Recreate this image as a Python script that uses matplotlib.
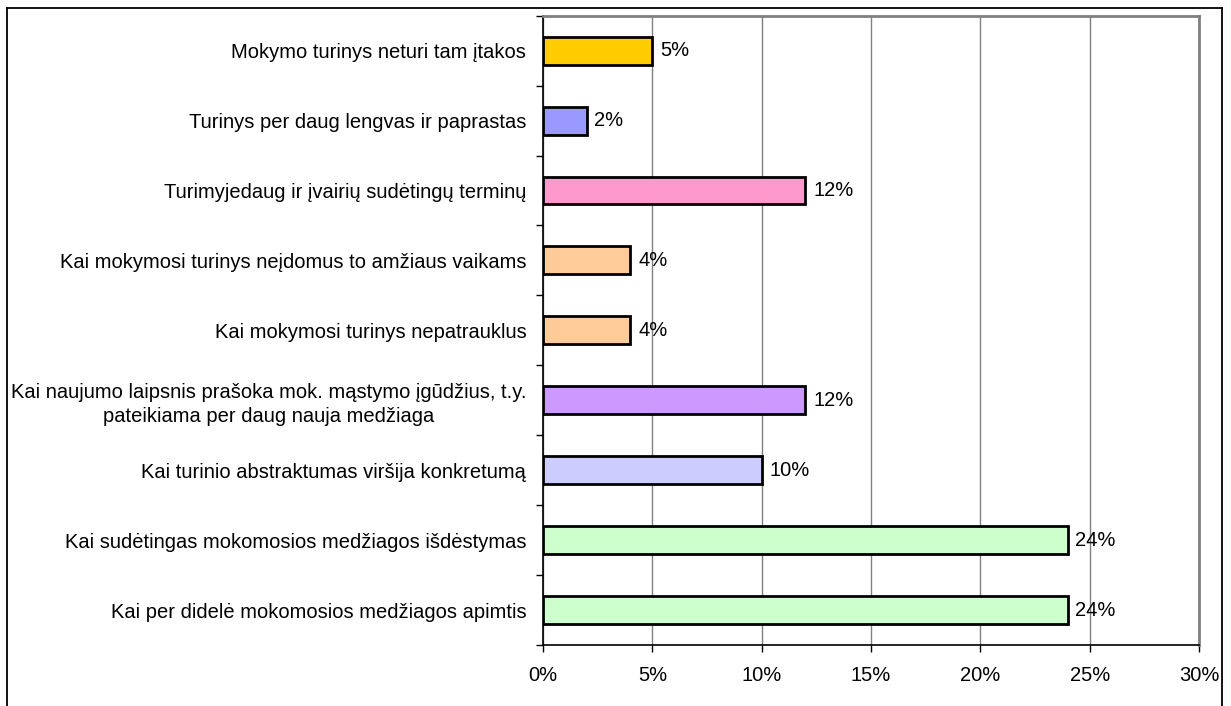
import matplotlib
matplotlib.use("Agg")
import matplotlib.pyplot as plt
from matplotlib.lines import Line2D
import numpy as np

plt.rcParams["font.family"] = ["Liberation Sans", "DejaVu Sans"]

# ---- data (bottom to top) ----
labels = [
    "Kai per didelė mokomosios medžiagos apimtis",
    "Kai sudėtingas mokomosios medžiagos išdėstymas",
    "Kai turinio abstraktumas viršija konkretumą",
    "Kai naujumo laipsnis prašoka mok. mąstymo įgūdžius, t.y.\npateikiama per daug nauja medžiaga",
    "Kai mokymosi turinys nepatrauklus",
    "Kai mokymosi turinys neįdomus to amžiaus vaikams",
    "Turimyjedaug ir įvairių sudėtingų terminų",
    "Turinys per daug lengvas ir paprastas",
    "Mokymo turinys neturi tam įtakos",
]
values = [24, 24, 10, 12, 4, 4, 12, 2, 5]
colors = ["#CCFFCC", "#CCFFCC", "#CCCCFF", "#CC99FF", "#FFCC99",
          "#FFCC99", "#FF99CC", "#9999FF", "#FFCC00"]
xticks = [0, 5, 10, 15, 20, 25, 30]

FS = 14.5

fig = plt.figure(figsize=(12.31, 7.06), dpi=100)
ax = fig.add_axes([543 / 1231, 1 - 645 / 706, (1199 - 543) / 1231, (645 - 15.7) / 706])

y = np.arange(len(values))
ax.barh(y, values, height=0.4, color=colors, edgecolor="black", linewidth=2, zorder=3)

for yi, v in zip(y, values):
    ax.text(v + 0.35, yi, f"{v}%", ha="left", va="center", fontsize=FS, zorder=4)

ax.set_xlim(0, 30)
ax.set_ylim(-0.5, len(values) - 0.5)

ax.set_xticks(xticks)
ax.set_xticklabels([f"{t}%" for t in xticks], fontsize=FS)
ax.tick_params(axis="x", length=5, width=1, color="black", pad=10)
ax.xaxis.grid(True, color="#808080", linewidth=1, zorder=0)

ax.set_yticks(y)
ax.set_yticklabels(labels, fontsize=FS, multialignment="center", linespacing=1.3)
ax.tick_params(axis="y", which="major", length=0, pad=12)
ax.set_yticks(np.arange(-0.5, len(values), 1), minor=True)
ax.tick_params(axis="y", which="minor", length=5, width=1, color="black")

for side in ("top", "right"):
    ax.spines[side].set_color("#808080")
    ax.spines[side].set_linewidth(2)
for side in ("left", "bottom"):
    ax.spines[side].set_color("black")
    ax.spines[side].set_linewidth(1.2)

# outer chart border
bx0, bx1, by1 = 7 / 1231, 1222 / 1231, 1 - 8 / 706
for xs, ys in [([bx0, bx0], [0, by1]), ([bx0, bx1], [by1, by1]), ([bx1, bx1], [by1, 0])]:
    fig.add_artist(Line2D(xs, ys, color="black", linewidth=1.3, transform=fig.transFigure))

fig.savefig("out.png", dpi=100, facecolor="white")
